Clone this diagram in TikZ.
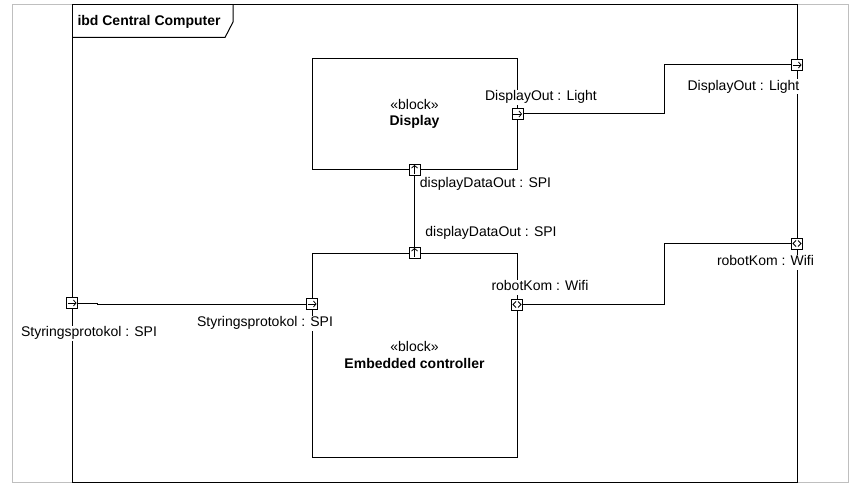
\documentclass[tikz,border=0pt]{standalone}
\usepackage{fontspec}
\setmainfont{Liberation Sans}
\usetikzlibrary{arrows.meta,positioning}

\tikzset{
  lbl/.style={font=\fontsize{14}{16}\selectfont, fill=white, inner sep=1pt, text height=10pt, text depth=3pt},
  block/.style={rectangle, draw=black, minimum width=205, minimum height=110, align=center, font=\fontsize{14}{16.5}\selectfont},
  port/.style={rectangle, draw=black, fill=white, minimum size=11, inner sep=0},
  pright/.style={port, path picture={\draw[line width=.8pt, -{Straight Barb[length=2.5pt,width=6pt]}] ([xshift=-4.5pt]path picture bounding box.center) -- ([xshift=4.5pt]path picture bounding box.center);}},
  pup/.style={port, path picture={\draw[line width=.8pt, -{Straight Barb[length=2.5pt,width=6pt]}] ([yshift=-4.5pt]path picture bounding box.center) -- ([yshift=4.5pt]path picture bounding box.center);}},
  pboth/.style={port, path picture={
    \draw[line width=.8pt] ([shift={(-1pt,3pt)}]path picture bounding box.center) -- ++(-3pt,-3pt) -- ++(3pt,-3pt);
    \draw[line width=.8pt] ([shift={(1pt,3pt)}]path picture bounding box.center) -- ++(3pt,-3pt) -- ++(-3pt,-3pt);}}
}

\begin{document}
\begin{tikzpicture}[x=1pt, y=-1pt, line width=1pt]
\useasboundingbox (0,0) rectangle (856,492);
\draw[black!25] (12,5) rectangle (848,482);

% frame
\node (frame) [draw=black, minimum width=725, minimum height=477, inner sep=0] at (434.5,243.5) {};
\draw (72,37.5) -- (225,37.5) -- (233,22) -- (233,5);
\node (title) [anchor=west, inner sep=0, font=\fontsize{14}{16}\selectfont\bfseries] at (77,22) {ibd Central Computer};

% blocks
\node (display) [block] at (414.5,114) {«block»\\\textbf{Display}};
\node (ctrl) [block, minimum height=204] at (414.5,355) {«block»\\\textbf{Embedded controller}};

% ports
\node (dispOut) [pright] at (display.east) {};
\node (dispData) [pup] at (display.south) {};
\node (ctrlData) [pup] at (ctrl.north) {};
\node (ctrlKom) [pboth] at (517,304.5) {};
\node (ctrlStyr) [pright] at (312,304) {};
\node (fDispOut) [pright] at (797,65) {};
\node (fKom) [pboth] at (797,243.5) {};
\node (fStyr) [pright] at (72,303) {};

\draw (dispOut.east) -- ++(141,0) |- (fDispOut.west);
\draw (ctrlKom.east) -- ++(141,0) |- (fKom.west);
\draw (dispData.south) -- (ctrlData.north);
\draw (fStyr.east) -- ++(19,0) |- (ctrlStyr.west);

% labels
\node (lDispOut) [lbl] at (541,97.5) {DisplayOut : Light};
\node (lDispData) [lbl] at (485.5,184) {displayDataOut : SPI};
\node (lCtrlData) [lbl] at (491,232.5) {displayDataOut : SPI};
\node (lCtrlKom) [lbl] at (540,287) {robotKom : Wifi};
\node (lCtrlStyr) [lbl] at (265,323) {Styringsprotokol : SPI};
\node (lfDispOut) [lbl] at (743.5,87) {DisplayOut : Light};
\node (lfKom) [lbl] at (765.5,262) {robotKom : Wifi};
\node (lfStyr) [lbl] at (89,333) {Styringsprotokol : SPI};
\end{tikzpicture}
\end{document}
